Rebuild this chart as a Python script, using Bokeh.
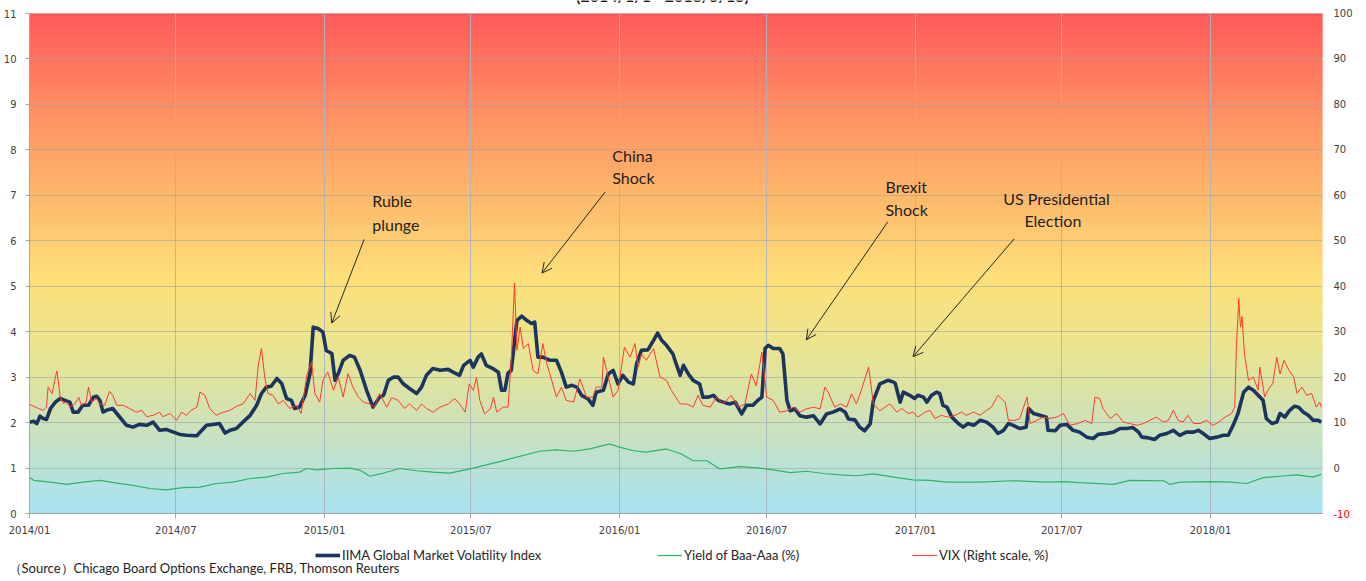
import numpy as np
import pandas as pd
from bokeh.plotting import figure
from bokeh.models import (Range1d, LinearAxis, DatetimeAxis, FixedTicker, Legend, LegendItem,
                          Label, Arrow, OpenHead, Grid)
from bokeh.embed import file_html
from bokeh.resources import INLINE

# ---------------- data ----------------
iima_dates = [
    "2014-01-01", "2014-01-06", "2014-01-10", "2014-01-14", "2014-01-18", "2014-01-22", "2014-01-27",
    "2014-02-02", "2014-02-08", "2014-02-14", "2014-02-20", "2014-02-24", "2014-03-02", "2014-03-08",
    "2014-03-15", "2014-03-21", "2014-03-25", "2014-03-29", "2014-04-02", "2014-04-06", "2014-04-14",
    "2014-04-19", "2014-05-01", "2014-05-09", "2014-05-17", "2014-05-26", "2014-06-03", "2014-06-11",
    "2014-06-19", "2014-06-28", "2014-07-06", "2014-07-14", "2014-07-27", "2014-07-31", "2014-08-08",
    "2014-08-16", "2014-08-24", "2014-08-31", "2014-09-06", "2014-09-14", "2014-09-22", "2014-10-01",
    "2014-10-09", "2014-10-15", "2014-10-21", "2014-10-27", "2014-11-03", "2014-11-09", "2014-11-15",
    "2014-11-21", "2014-11-25", "2014-12-01", "2014-12-08", "2014-12-14", "2014-12-18", "2014-12-24",
    "2014-12-30", "2015-01-03", "2015-01-10", "2015-01-14", "2015-01-18", "2015-01-24", "2015-02-01",
    "2015-02-07", "2015-02-14", "2015-02-22", "2015-03-02", "2015-03-10", "2015-03-15", "2015-03-21",
    "2015-03-27", "2015-04-02", "2015-04-08", "2015-04-16", "2015-04-25", "2015-05-01", "2015-05-07",
    "2015-05-15", "2015-05-24", "2015-06-03", "2015-06-09", "2015-06-17", "2015-06-22", "2015-06-30",
    "2015-07-04", "2015-07-10", "2015-07-14", "2015-07-20", "2015-07-29", "2015-08-04", "2015-08-08",
    "2015-08-12", "2015-08-16", "2015-08-20", "2015-08-27", "2015-09-02", "2015-09-08", "2015-09-14",
    "2015-09-18", "2015-09-22", "2015-09-28", "2015-10-07", "2015-10-15", "2015-10-21", "2015-10-27",
    "2015-11-03", "2015-11-09", "2015-11-15", "2015-11-23", "2015-11-29", "2015-12-03", "2015-12-12",
    "2015-12-18", "2015-12-24", "2015-12-30", "2016-01-05", "2016-01-12", "2016-01-18", "2016-01-22",
    "2016-01-28", "2016-02-05", "2016-02-12", "2016-02-17", "2016-02-22", "2016-02-28", "2016-03-07",
    "2016-03-11", "2016-03-16", "2016-03-20", "2016-03-26", "2016-04-01", "2016-04-09", "2016-04-13",
    "2016-04-20", "2016-04-26", "2016-05-02", "2016-05-08", "2016-05-16", "2016-05-23", "2016-05-31",
    "2016-06-06", "2016-06-14", "2016-06-20", "2016-06-25", "2016-06-29", "2016-07-03", "2016-07-09",
    "2016-07-17", "2016-07-21", "2016-07-26", "2016-07-30", "2016-08-05", "2016-08-11", "2016-08-19",
    "2016-08-28", "2016-09-05", "2016-09-13", "2016-09-21", "2016-09-30", "2016-10-06", "2016-10-10",
    "2016-10-18", "2016-10-24", "2016-10-30", "2016-11-06", "2016-11-10", "2016-11-18", "2016-11-28",
    "2016-12-05", "2016-12-07", "2016-12-13", "2016-12-17", "2016-12-25", "2016-12-31", "2017-01-04",
    "2017-01-11", "2017-01-15", "2017-01-21", "2017-01-27", "2017-01-31", "2017-02-04", "2017-02-09",
    "2017-02-15", "2017-02-23", "2017-03-01", "2017-03-07", "2017-03-14", "2017-03-22", "2017-03-30",
    "2017-04-07", "2017-04-13", "2017-04-20", "2017-04-26", "2017-05-02", "2017-05-10", "2017-05-18",
    "2017-05-21", "2017-05-27", "2017-06-04", "2017-06-12", "2017-06-14", "2017-06-23", "2017-06-29",
    "2017-07-07", "2017-07-15", "2017-07-23", "2017-08-01", "2017-08-09", "2017-08-15", "2017-08-25",
    "2017-09-03", "2017-09-11", "2017-09-19", "2017-09-27", "2017-10-04", "2017-10-08", "2017-10-14",
    "2017-10-24", "2017-10-30", "2017-11-08", "2017-11-16", "2017-11-24", "2017-12-02", "2017-12-11",
    "2017-12-17", "2017-12-23", "2017-12-31", "2018-01-09", "2018-01-17", "2018-01-23", "2018-01-29",
    "2018-02-04", "2018-02-11", "2018-02-17", "2018-02-23", "2018-03-01", "2018-03-07", "2018-03-11",
    "2018-03-18", "2018-03-24", "2018-03-28", "2018-04-03", "2018-04-09", "2018-04-15", "2018-04-20",
    "2018-04-26", "2018-05-02", "2018-05-08", "2018-05-14", "2018-05-18",
]
iima_values = [
    2.01, 2.03, 1.98, 2.14, 2.09, 2.07, 2.31,
    2.45, 2.53, 2.49, 2.45, 2.23, 2.23, 2.38,
    2.38, 2.56, 2.58, 2.49, 2.23, 2.27, 2.31,
    2.20, 1.94, 1.90, 1.96, 1.94, 2.01, 1.83,
    1.85, 1.79, 1.74, 1.72, 1.71, 1.79, 1.94,
    1.96, 1.98, 1.77, 1.83, 1.87, 2.01, 2.16,
    2.38, 2.64, 2.78, 2.80, 2.97, 2.86, 2.53,
    2.49, 2.31, 2.34, 2.60, 3.08, 4.10, 4.07,
    3.99, 3.59, 3.52, 2.93, 3.08, 3.37, 3.48,
    3.44, 3.15, 2.71, 2.34, 2.56, 2.60, 2.93,
    3.00, 3.00, 2.86, 2.75, 2.64, 2.78, 3.04,
    3.19, 3.15, 3.17, 3.11, 3.04, 3.26, 3.37,
    3.22, 3.44, 3.51, 3.26, 3.18, 3.11, 2.71,
    2.71, 3.09, 3.15, 4.25, 4.34, 4.25, 4.18,
    4.21, 3.44, 3.44, 3.37, 3.37, 3.11, 2.78,
    2.82, 2.78, 2.60, 2.52, 2.38, 2.67, 2.71,
    3.07, 3.15, 2.85, 3.04, 2.89, 2.85, 3.29,
    3.59, 3.60, 3.81, 3.97, 3.81, 3.70, 3.51,
    3.29, 3.04, 3.26, 3.07, 2.93, 2.85, 2.56,
    2.56, 2.60, 2.49, 2.45, 2.41, 2.45, 2.19,
    2.38, 2.38, 2.49, 2.56, 3.63, 3.70, 3.63,
    3.63, 3.51, 2.49, 2.26, 2.30, 2.15, 2.12,
    2.15, 1.97, 2.19, 2.23, 2.30, 2.23, 2.08,
    2.06, 1.90, 1.82, 1.97, 2.49, 2.85, 2.93,
    2.89, 2.86, 2.45, 2.67, 2.60, 2.53, 2.60,
    2.56, 2.45, 2.60, 2.67, 2.64, 2.38, 2.34,
    2.12, 1.98, 1.90, 1.98, 1.94, 2.05, 2.01,
    1.90, 1.76, 1.83, 1.98, 1.94, 1.87, 1.90,
    2.31, 2.20, 2.16, 2.12, 1.83, 1.82, 1.94,
    1.96, 1.83, 1.79, 1.68, 1.65, 1.74, 1.76,
    1.79, 1.87, 1.87, 1.89, 1.79, 1.68, 1.67,
    1.63, 1.72, 1.76, 1.83, 1.72, 1.79, 1.79,
    1.83, 1.76, 1.65, 1.68, 1.72, 1.72, 1.94,
    2.20, 2.67, 2.78, 2.71, 2.60, 2.49, 2.09,
    1.98, 2.01, 2.20, 2.12, 2.27, 2.36, 2.34,
    2.23, 2.16, 2.05, 2.05, 2.01,
]

baa_dates = [
    "2014-01-01", "2014-01-06", "2014-01-27", "2014-02-16", "2014-03-08", "2014-03-29", "2014-04-19",
    "2014-05-09", "2014-05-30", "2014-06-19", "2014-07-10", "2014-07-31", "2014-08-20", "2014-09-10",
    "2014-10-01", "2014-10-21", "2014-11-11", "2014-12-01", "2014-12-10", "2014-12-22", "2015-01-12",
    "2015-02-01", "2015-02-14", "2015-02-26", "2015-03-15", "2015-04-04", "2015-04-25", "2015-05-15",
    "2015-06-05", "2015-07-04", "2015-08-14", "2015-09-24", "2015-10-15", "2015-11-05", "2015-11-25",
    "2015-12-20", "2016-01-01", "2016-01-18", "2016-02-03", "2016-02-28", "2016-03-16", "2016-04-01",
    "2016-04-18", "2016-05-04", "2016-05-29", "2016-06-23", "2016-07-09", "2016-07-30", "2016-08-19",
    "2016-09-09", "2016-09-30", "2016-10-20", "2016-11-10", "2016-12-09", "2016-12-29", "2017-01-19",
    "2017-02-09", "2017-03-22", "2017-05-02", "2017-06-12", "2017-07-03", "2017-07-23", "2017-09-03",
    "2017-09-23", "2017-11-04", "2017-11-12", "2017-11-24", "2018-01-04", "2018-01-25", "2018-02-15",
    "2018-03-07", "2018-03-28", "2018-04-18", "2018-05-08", "2018-05-18",
]
baa_values = [
    0.80, 0.73, 0.69, 0.64, 0.69, 0.73, 0.67,
    0.62, 0.55, 0.52, 0.57, 0.58, 0.66, 0.69,
    0.77, 0.80, 0.88, 0.91, 0.99, 0.96, 0.99,
    1.00, 0.95, 0.82, 0.89, 0.99, 0.94, 0.91,
    0.89, 1.00, 1.18, 1.37, 1.40, 1.37, 1.42,
    1.53, 1.46, 1.38, 1.35, 1.42, 1.32, 1.16,
    1.16, 0.98, 1.03, 1.00, 0.96, 0.90, 0.93,
    0.88, 0.85, 0.83, 0.87, 0.79, 0.74, 0.73,
    0.69, 0.69, 0.72, 0.69, 0.70, 0.68, 0.64,
    0.73, 0.72, 0.64, 0.69, 0.70, 0.69, 0.66,
    0.79, 0.82, 0.85, 0.80, 0.86,
]

vix_dates = [
    "2014-01-01", "2014-01-06", "2014-01-12", "2014-01-18", "2014-01-22", "2014-01-24", "2014-01-29",
    "2014-02-02", "2014-02-04", "2014-02-08", "2014-02-12", "2014-02-16", "2014-02-20", "2014-02-26",
    "2014-03-03", "2014-03-06", "2014-03-12", "2014-03-15", "2014-03-19", "2014-03-25", "2014-03-29",
    "2014-04-04", "2014-04-10", "2014-04-14", "2014-04-19", "2014-04-27", "2014-05-05", "2014-05-13",
    "2014-05-20", "2014-05-26", "2014-06-03", "2014-06-11", "2014-06-15", "2014-06-24", "2014-07-02",
    "2014-07-08", "2014-07-14", "2014-07-20", "2014-07-27", "2014-07-31", "2014-08-06", "2014-08-12",
    "2014-08-20", "2014-08-29", "2014-09-06", "2014-09-14", "2014-09-22", "2014-10-01", "2014-10-07",
    "2014-10-11", "2014-10-15", "2014-10-19", "2014-10-23", "2014-10-29", "2014-11-05", "2014-11-11",
    "2014-11-19", "2014-11-27", "2014-12-03", "2014-12-10", "2014-12-16", "2014-12-20", "2014-12-26",
    "2014-12-30", "2015-01-05", "2015-01-12", "2015-01-18", "2015-01-24", "2015-01-30", "2015-02-05",
    "2015-02-12", "2015-02-18", "2015-02-26", "2015-03-04", "2015-03-10", "2015-03-19", "2015-03-25",
    "2015-04-02", "2015-04-10", "2015-04-16", "2015-04-25", "2015-05-01", "2015-05-07", "2015-05-15",
    "2015-05-24", "2015-06-03", "2015-06-11", "2015-06-17", "2015-06-24", "2015-06-29", "2015-07-04",
    "2015-07-08", "2015-07-12", "2015-07-18", "2015-07-25", "2015-07-29", "2015-08-02", "2015-08-10",
    "2015-08-16", "2015-08-20", "2015-08-24", "2015-08-27", "2015-08-31", "2015-09-04", "2015-09-10",
    "2015-09-16", "2015-09-22", "2015-09-28", "2015-10-03", "2015-10-09", "2015-10-15", "2015-10-21",
    "2015-10-27", "2015-11-05", "2015-11-13", "2015-11-21", "2015-11-29", "2015-12-03", "2015-12-10",
    "2015-12-12", "2015-12-18", "2015-12-24", "2015-12-30", "2016-01-07", "2016-01-14", "2016-01-20",
    "2016-01-24", "2016-01-28", "2016-02-03", "2016-02-12", "2016-02-20", "2016-02-28", "2016-03-05",
    "2016-03-16", "2016-03-24", "2016-04-01", "2016-04-07", "2016-04-13", "2016-04-22", "2016-04-30",
    "2016-05-08", "2016-05-18", "2016-05-27", "2016-06-04", "2016-06-12", "2016-06-18", "2016-06-25",
    "2016-07-01", "2016-07-09", "2016-07-17", "2016-07-26", "2016-08-03", "2016-08-11", "2016-08-19",
    "2016-08-28", "2016-09-05", "2016-09-11", "2016-09-15", "2016-09-23", "2016-09-30", "2016-10-08",
    "2016-10-14", "2016-10-20", "2016-10-26", "2016-11-04", "2016-11-10", "2016-11-18", "2016-11-30",
    "2016-12-02", "2016-12-09", "2016-12-15", "2016-12-23", "2016-12-29", "2017-01-04", "2017-01-13",
    "2017-01-19", "2017-01-25", "2017-02-02", "2017-02-10", "2017-02-19", "2017-02-27", "2017-03-05",
    "2017-03-14", "2017-03-22", "2017-03-30", "2017-04-05", "2017-04-13", "2017-04-22", "2017-04-26",
    "2017-05-04", "2017-05-10", "2017-05-19", "2017-05-23", "2017-05-31", "2017-06-08", "2017-06-16",
    "2017-06-25", "2017-07-03", "2017-07-11", "2017-07-21", "2017-07-30", "2017-08-07", "2017-08-11",
    "2017-08-17", "2017-08-21", "2017-08-30", "2017-09-07", "2017-09-15", "2017-09-23", "2017-10-02",
    "2017-10-10", "2017-10-18", "2017-10-26", "2017-11-04", "2017-11-10", "2017-11-16", "2017-11-22",
    "2017-11-28", "2017-12-04", "2017-12-11", "2017-12-19", "2017-12-27", "2018-01-04", "2018-01-11",
    "2018-01-19", "2018-01-27", "2018-01-31", "2018-02-02", "2018-02-05", "2018-02-07", "2018-02-09",
    "2018-02-12", "2018-02-17", "2018-02-23", "2018-03-01", "2018-03-03", "2018-03-09", "2018-03-13",
    "2018-03-19", "2018-03-24", "2018-03-28", "2018-04-02", "2018-04-08", "2018-04-14", "2018-04-18",
    "2018-04-24", "2018-04-30", "2018-05-06", "2018-05-12", "2018-05-16", "2018-05-18",
]
vix_values = [
    14.0, 13.6, 13.1, 12.7, 13.4, 17.8, 16.4,
    20.0, 21.4, 15.6, 14.2, 14.5, 13.4, 14.1,
    15.6, 13.8, 14.5, 17.8, 14.5, 15.3, 14.1,
    13.8, 16.9, 16.0, 13.8, 13.8, 13.1, 12.3,
    12.7, 11.3, 11.6, 12.3, 11.3, 12.0, 10.5,
    12.3, 11.6, 12.7, 13.4, 16.7, 16.0, 13.1,
    11.6, 12.3, 12.7, 13.6, 14.1, 16.4, 14.9,
    22.6, 26.3, 20.0, 16.4, 16.0, 14.1, 14.9,
    13.1, 13.8, 12.0, 20.4, 23.3, 16.4, 14.5,
    19.3, 21.1, 17.1, 20.0, 15.6, 20.8, 17.8,
    15.6, 14.5, 14.1, 13.4, 16.4, 13.4, 15.5,
    14.9, 13.1, 14.1, 12.7, 14.1, 13.1, 12.3,
    13.4, 14.1, 15.3, 14.1, 12.3, 18.5, 17.1,
    20.0, 14.9, 11.9, 13.0, 15.6, 12.3, 13.4,
    13.4, 23.7, 40.7, 25.9, 31.0, 26.3, 27.4,
    21.5, 20.7, 27.4, 22.9, 19.3, 15.6, 17.8,
    14.9, 14.5, 19.6, 15.6, 15.6, 17.8, 17.8,
    24.4, 20.0, 15.6, 17.1, 26.6, 24.4, 27.4,
    22.2, 25.1, 23.7, 26.3, 20.0, 19.3, 17.1,
    14.1, 14.1, 13.4, 16.0, 13.8, 13.4, 15.6,
    14.1, 16.0, 13.4, 14.1, 20.7, 18.1, 25.5,
    15.6, 14.9, 12.3, 12.6, 13.4, 12.3, 13.0,
    13.4, 13.0, 17.8, 16.7, 13.4, 14.1, 13.4,
    16.3, 14.1, 17.1, 22.2, 14.1, 12.6, 14.1,
    13.8, 12.3, 13.1, 12.0, 12.3, 11.2, 12.3,
    12.7, 10.9, 11.6, 11.2, 11.6, 12.3, 11.6,
    12.3, 11.6, 12.7, 13.4, 16.0, 14.5, 10.5,
    10.5, 10.9, 15.6, 9.8, 10.5, 11.2, 10.9,
    11.2, 12.0, 9.4, 9.8, 10.5, 9.8, 15.6,
    15.3, 13.1, 10.9, 12.0, 10.1, 9.8, 9.4,
    9.8, 10.5, 11.2, 10.1, 10.5, 12.7, 10.5,
    10.1, 11.6, 9.8, 9.8, 10.5, 9.4, 10.1,
    11.2, 12.0, 13.4, 26.6, 37.3, 31.0, 33.3,
    25.2, 19.3, 20.0, 17.1, 22.2, 15.6, 17.1,
    18.6, 24.4, 20.7, 23.7, 21.5, 20.0, 16.4,
    17.8, 16.0, 16.4, 13.4, 14.5, 13.4,
]

tick_dates = ["2014-01-01", "2014-07-01", "2015-01-01", "2015-07-01", "2016-01-01",
              "2016-07-01", "2017-01-01", "2017-07-01", "2018-01-01"]
tick_labels = ["2014/01", "2014/07", "2015/01", "2015/07", "2016/01",
               "2016/07", "2017/01", "2017/07", "2018/01"]
left_ticks = list(range(0, 12))
right_ticks = list(range(-10, 101, 10))

series_names = ["IIMA Global Market Volatility Index", "Yield of Baa-Aaa (%)", "VIX (Right scale, %)"]
title_text = "(2014/1/1 - 2018/5/15)"
source_text = "（Source）Chicago Board Options Exchange, FRB, Thomson  Reuters"

# ---------------- geometry (pixels of the page) ----------------
W, H = 1366, 581
PX_LEFT, PX_RIGHT, PX_TOP, PX_BOTTOM = 29, 1322, 13, 513
TEXT_SHIFT_PX = 7   # measured baseline offset of alphabetic labels in this renderer
t0 = pd.Timestamp("2014-01-01")
px_per_day = (1210 - 29) / (pd.Timestamp("2018-01-01") - t0).days
px_per_unit = (PX_BOTTOM - PX_TOP) / 11.0


def ms(d):
    return pd.Timestamp(d).value / 1e6


def day_to_ts(days):
    return t0 + pd.Timedelta(days=days)


x_lo = day_to_ts(-PX_LEFT / px_per_day)
x_hi = day_to_ts((W - PX_LEFT) / px_per_day)
x_left = day_to_ts(0)
x_right = day_to_ts((PX_RIGHT - PX_LEFT) / px_per_day)
y_lo = -(H - PX_BOTTOM) / px_per_unit
y_hi = 11 + PX_TOP / px_per_unit

p = figure(width=W, height=H, x_axis_type="datetime",
           x_range=Range1d(x_lo, x_hi), y_range=Range1d(y_lo, y_hi),
           x_axis_location=None, y_axis_location=None,
           output_backend="svg", toolbar_location=None, min_border=0)
# drop the automatic grids that figure() creates even without axes
p.center = [r for r in p.center if not isinstance(r, Grid)]
p.extra_y_ranges = {"vix": Range1d(10 * y_lo - 10, 10 * y_hi - 10)}
p.outline_line_color = None
p.background_fill_color = "white"
p.border_fill_color = "white"

# ---------- gradient background ----------
stop_vals = [0, 1, 2, 3, 4, 5.2, 7, 9, 11]
stop_cols = np.array([(168, 226, 244), (186, 226, 214), (206, 226, 186), (224, 228, 158),
                      (240, 228, 138), (253, 224, 122), (254, 184, 108), (255, 140, 100),
                      (255, 90, 90)], dtype=float)
edges = np.linspace(0, 11, 221)
mids = (edges[:-1] + edges[1:]) / 2
cols = []
for m in mids:
    r = np.interp(m, stop_vals, stop_cols[:, 0])
    g = np.interp(m, stop_vals, stop_cols[:, 1])
    b = np.interp(m, stop_vals, stop_cols[:, 2])
    cols.append("#%02x%02x%02x" % (int(r), int(g), int(b)))
tops = np.minimum(edges[1:] + 0.03, 11)
bg = p.quad(left=[x_left] * len(mids), right=[x_right] * len(mids),
            bottom=edges[:-1], top=tops, fill_color=cols, line_color=None)
bg.level = "image"

# ---------- grids ----------
xt = FixedTicker(ticks=[ms(d) for d in tick_dates])
yt = FixedTicker(ticks=left_ticks)
p.add_layout(Grid(dimension=0, ticker=xt, cross_bounds=(0, 11),
                  grid_line_color="#A9B2C0", grid_line_alpha=0.9))
p.add_layout(Grid(dimension=1, ticker=yt, cross_bounds=(ms(x_left), ms(x_right)),
                  grid_line_color="#A0A0A0", grid_line_alpha=0.55))

# ---------- series ----------
r_iima = p.line(pd.to_datetime(iima_dates), iima_values, line_color="#1C355E",
                line_width=3.6, line_join="round")
r_baa = p.line(pd.to_datetime(baa_dates), baa_values, line_color="#2DB36B", line_width=1.2)
r_vix = p.line(pd.to_datetime(vix_dates), vix_values, line_color="#FF3B2A", line_width=1,
               y_range_name="vix")

# ---------- axes ----------
axis_font = "DejaVu Sans"
xa = DatetimeAxis(ticker=xt, fixed_location=0, bounds=(ms(x_left), ms(x_right)))
xa.major_label_overrides = {ms(d): lab for d, lab in zip(tick_dates, tick_labels)}
xa.axis_line_color = "#A6A6A6"
xa.major_tick_line_color = "#A6A6A6"
xa.major_tick_in = 0
xa.major_tick_out = 5
xa.minor_tick_line_color = None
xa.major_label_standoff = 6
xa.major_label_text_font = axis_font
xa.major_label_text_font_size = "10px"
xa.major_label_text_color = "#404040"
p.add_layout(xa, "below")

ya = LinearAxis(ticker=yt, fixed_location=ms(x_left), bounds=(0, 11))
ya.axis_line_color = "#A6A6A6"
ya.major_tick_line_color = "#A6A6A6"
ya.major_tick_in = 0
ya.major_tick_out = 4
ya.minor_tick_line_color = None
ya.major_label_standoff = 9
ya.major_label_text_font = axis_font
ya.major_label_text_font_size = "10px"
ya.major_label_text_color = "#404040"
p.add_layout(ya, "left")

ra = LinearAxis(y_range_name="vix", ticker=FixedTicker(ticks=right_ticks),
                fixed_location=ms(x_right), bounds=(-10, 100))
ra.axis_line_color = None
ra.major_tick_line_color = None
ra.minor_tick_line_color = None
ra.major_tick_out = 0
ra.major_label_standoff = 11
ra.major_label_text_font = axis_font
ra.major_label_text_font_size = "10px"
ra.major_label_text_color = "#404040"
ra.major_label_overrides = {-10: " "}
p.add_layout(ra, "right")

p.add_layout(Label(x=PX_RIGHT + 11, x_units="screen", y=-10, y_range_name="vix", text="-10",
                   text_color="#FF0000", text_font=axis_font, text_font_size="10px",
                   text_baseline="middle", text_align="left"))

# partly hidden title at the very top, as in the reference
p.add_layout(Label(x=662, x_units="screen", y=H + 5, y_units="screen", text=title_text,
                   text_font="Lato", text_font_style="bold", text_font_size="16px",
                   text_color="#1E1E1E", text_align="center", text_baseline="alphabetic"))

# ---------- annotations ----------
ann_font = "Lato"
ann_size = "16px"
ann_col = "#1E1E1E"
dy = TEXT_SHIFT_PX / px_per_unit
texts = [
    ("Ruble", "2015-03-01", 6.73, "left"),
    ("plunge", "2015-03-01", 6.21, "left"),
    ("China", "2015-12-23", 7.73, "left"),
    ("Shock", "2015-12-23", 7.23, "left"),
    ("Brexit", "2016-11-25", 7.03, "left"),
    ("Shock", "2016-11-25", 6.54, "left"),
    ("US  Presidential", "2017-06-27", 6.78, "center"),
    ("Election", "2017-06-20", 6.29, "center"),
]
for t, d, yv, al in texts:
    p.add_layout(Label(x=ms(d), y=yv + dy, text=t, text_font=ann_font, text_font_size=ann_size,
                       text_color=ann_col, text_align=al, text_baseline="alphabetic"))

arrows = [
    ("2015-02-19", 6.03, "2015-01-10", 4.19),
    ("2015-12-14", 7.07, "2015-09-27", 5.29),
    ("2016-11-28", 6.42, "2016-08-19", 3.82),
    ("2017-05-03", 6.04, "2016-12-29", 3.45),
]
for xs, ys, xe, ye in arrows:
    p.add_layout(Arrow(end=OpenHead(size=10, line_color="#262626", line_width=1),
                       x_start=ms(xs), y_start=ys, x_end=ms(xe), y_end=ye,
                       line_color="#262626", line_width=1))

# ---------- legend ----------
leg_x = [315, 657, 912]
for rend, name, lx in zip([r_iima, r_baa, r_vix], series_names, leg_x):
    lg = Legend(items=[LegendItem(label=name, renderers=[rend])], location=(lx, H - 565),
                orientation="horizontal", padding=0, margin=0, border_line_color=None,
                background_fill_alpha=0, glyph_width=25, glyph_height=20, label_height=20,
                label_standoff=2, label_text_font="Lato", label_text_font_size="13px",
                label_text_color="#262626")
    p.add_layout(lg)

p.add_layout(Label(x=8, y=H - 574 + TEXT_SHIFT_PX, x_units="screen", y_units="screen",
                   text=source_text, text_font="Lato", text_font_size="13px",
                   text_color="#1E1E1E", text_baseline="alphabetic"))

open("out.html", "w").write(file_html(p, INLINE))
